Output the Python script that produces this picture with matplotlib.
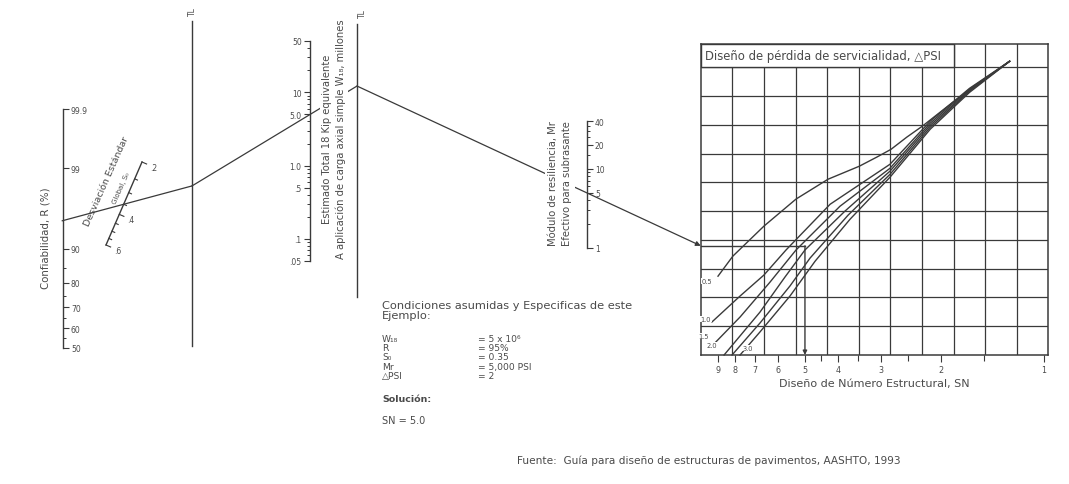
import numpy as np
import matplotlib.pyplot as plt
from matplotlib import transforms
from matplotlib.patches import Rectangle
from matplotlib.ticker import LogLocator, NullFormatter

plt.rcParams['font.family'] = ['DejaVu Sans']

W, H = 1069, 485
ink = '#3a3a3a'
txt = '#4a4a4a'

# ---- scale data ----
# confiabilidad R (%) y su desviacion normal estandar |Z_R|
r_major = ['99.9', '99', '90', '80', '70', '60', '50']
r_major_z = [3.090, 2.327, 1.282, 0.841, 0.524, 0.253, 0.0]
r_minor_z = [1.036, 0.674, 0.385, 0.126]          # 85, 75, 65, 55

so_major = [0.2, 0.4, 0.6]
so_labels = ['.2', '.4', '.6']
so_minor = [0.25, 0.3, 0.35, 0.45, 0.5, 0.55]

w18_major = [0.05, 0.1, 0.5, 1.0, 5.0, 10, 50]
w18_labels = ['.05', '.1', '.5', '1.0', '5.0', '10', '50']

mr_major = [1, 5, 10, 20, 40]
mr_labels = ['1', '5', '10', '20', '40']
mr_minor = [2, 3, 4, 6, 7, 8, 9, 15, 25, 30, 35]

sn_major = [9, 8, 7, 6, 5, 4, 3, 2, 1]
sn_minor = [4.5, 3.5, 2.5, 1.5]

# curvas de perdida de servicialidad (SN, altura en cuadriculas)
dpsi_names = ['0.5', '1.0', '1.5', '2.0', '2.5', '3.0']
sn_05 = [8.98, 8.12, 6.59, 5.31, 4.28, 3.47, 3.08, 2.80, 2.52, 2.27, 1.85, 1.49, 1.26]
y_05 = [2.74, 3.44, 4.48, 5.42, 6.11, 6.56, 6.88, 7.15, 7.57, 7.95, 8.78, 9.58, 10.21]
sn_10 = [9.35, 7.74, 6.59, 5.68, 4.22, 2.82, 2.15, 1.65, 1.26]
y_10 = [1.15, 2.05, 2.78, 3.65, 5.24, 6.63, 8.13, 9.27, 10.21]
sn_15 = [9.29, 7.74, 6.33, 5.31, 3.95, 2.82, 2.15, 1.65, 1.26]
y_15 = [0.35, 1.32, 2.53, 3.65, 5.17, 6.49, 8.06, 9.24, 10.21]
sn_20 = [8.62, 6.77, 5.72, 5.0, 3.82, 2.82, 2.15, 1.65, 1.26]
y_20 = [0.0, 1.49, 2.71, 3.65, 5.00, 6.39, 7.99, 9.20, 10.21]
sn_25 = [8.17, 6.77, 5.53, 4.83, 3.74, 2.82, 2.15, 1.65, 1.26]
y_25 = [0.0, 1.11, 2.40, 3.37, 4.86, 6.28, 7.92, 9.17, 10.21]
sn_30 = [7.74, 6.77, 5.53, 4.67, 3.69, 2.82, 2.15, 1.65, 1.26]
y_30 = [0.0, 0.80, 2.05, 3.26, 4.72, 6.18, 7.85, 9.13, 10.21]

# ejemplo
z_r = 1.645      # R = 95 %
so_val = 0.35
w18_val = 5.0
mr_val = 5.0
sn_val = 5.0

fig = plt.figure(figsize=(W / 100, H / 100), dpi=100)
ov = fig.add_axes([0, 0, 1, 1])
ov.set_xlim(0, W)
ov.set_ylim(H, 0)
ov.axis('off')


def to_px(ax, x, y, tr=None):
    d = (tr or ax.transData).transform((x, y))
    return ov.transData.inverted().transform(d)


def vscale(x, ytop, ybot, side):
    ax = fig.add_axes([x / W, 1 - ybot / H, 0.0005, (ybot - ytop) / H])
    ax.patch.set_visible(False)
    for s in ax.spines.values():
        s.set_visible(False)
    ax.spines[side].set_visible(True)
    ax.spines[side].set_color(ink)
    ax.spines[side].set_linewidth(1.0)
    ax.set_xticks([])
    if side == 'right':
        ax.yaxis.tick_right()
    ax.tick_params(axis='y', which='major', length=4, width=0.8, color=ink,
                   labelsize=5.5, labelcolor=txt, pad=2)
    ax.tick_params(axis='y', which='minor', length=2.5, width=0.7, color=ink)
    return ax


# R
ax_r = vscale(62, 110, 349, 'right')
ax_r.set_ylim(0, 3.090)
ax_r.set_yticks(r_major_z, r_major)
ax_r.set_yticks(r_minor_z, minor=True)
ov.text(46, 238, 'Confiabilidad, R (%)', rotation=90, ha='center', va='center',
        fontsize=7.4, color=txt)

# W18
ax_w = vscale(310, 42, 262, 'left')
ax_w.set_yscale('log')
ax_w.set_ylim(0.05, 50)
ax_w.set_yticks(w18_major, w18_labels)
ax_w.yaxis.set_minor_locator(LogLocator(base=10, subs=np.arange(2, 10)))
ax_w.yaxis.set_minor_formatter(NullFormatter())

# Mr
ax_m = vscale(586, 122, 249, 'right')
ax_m.set_yscale('log')
ax_m.set_ylim(1, 40)
ax_m.set_yticks(mr_major, mr_labels)
ax_m.set_yticks(mr_minor, minor=True)
ax_m.yaxis.set_minor_formatter(NullFormatter())

# So (escala inclinada, logaritmica)
p_top = np.array([142.0, 163.0])
p_bot = np.array([106.0, 246.0])
u = (p_top - p_bot) / np.hypot(*(p_top - p_bot))
nrm = np.array([-u[1], u[0]])


def so_pt(v):
    t = (np.log10(v) - np.log10(0.6)) / (np.log10(0.2) - np.log10(0.6))
    return p_bot + t * (p_top - p_bot)


ov.plot([p_bot[0], p_top[0]], [p_bot[1], p_top[1]], color=ink, lw=1.0)
for v in so_major + so_minor:
    a = so_pt(v)
    b = a + nrm * (5 if v in so_major else 3)
    ov.plot([a[0], b[0]], [a[1], b[1]], color=ink, lw=0.8)
for v, lab in zip(so_major, so_labels):
    c = so_pt(v) + nrm * 13
    ov.text(c[0], c[1], lab, fontsize=5.5, color=txt, ha='center', va='center')
ov.text(106, 182, 'Desviación Estándar', rotation=66, ha='center', va='center',
        fontsize=6.8, color=txt)
ov.text(121, 188, 'Global, S₀', rotation=66, ha='center', va='center',
        fontsize=5, color=txt)

# lineas de pivote TL
tl1_x, tl2_x = 192, 357
ov.plot([tl1_x, tl1_x], [22, 347], color=ink, lw=1.0)
ov.plot([tl2_x, tl2_x], [25, 298], color=ink, lw=1.0)
ov.text(tl1_x, 12, 'TL', rotation=90, fontsize=5.5, color=txt, ha='center', va='center')
ov.text(tl2_x + 5, 14, 'TL', rotation=90, fontsize=5.5, color=txt, ha='center', va='center')

ov.text(334, 139, 'Estimado Total 18 Kip equivalente\n'
        'A aplicación de carga axial simple W₁₈, millones',
        rotation=90, ha='center', va='center', fontsize=7.2, color=txt,
        linespacing=1.45, zorder=5,
        bbox=dict(fc='white', ec='none', pad=1))
ov.text(560, 184, 'Módulo de resiliencia, Mr\nEfectivo para subrasante',
        rotation=90, ha='center', va='center', fontsize=7.2, color=txt,
        linespacing=1.5, zorder=5,
        bbox=dict(fc='white', ec='none', pad=2))

# grafico de diseño
x0, x1, yt, yb = 700.7, 1048.3, 45, 356
ax_c = fig.add_axes([x0 / W, 1 - yb / H, (x1 - x0) / W, (yb - yt) / H])
ax_c.patch.set_visible(False)
ax_c.set_xscale('log')
ax_c.set_xlim(10.09, 0.971)
ax_c.set_ylim(0, 10.81)
for s in ax_c.spines.values():
    s.set_color(ink)
    s.set_linewidth(1.1)
for k in range(1, 11):
    ax_c.plot([k / 11, k / 11], [0, 1], transform=ax_c.transAxes, color=ink, lw=0.9)
for j in range(1, 11):
    ax_c.axhline(j, color=ink, lw=0.9)
blend = transforms.blended_transform_factory(ax_c.transAxes, ax_c.transData)
ax_c.add_patch(Rectangle((0, 10), 8 / 11, 0.81, transform=blend, fc='white',
                         ec=ink, lw=1.0, zorder=3))
ax_c.text(0.012, 10.40, 'Diseño de pérdida de servicialidad, △PSI', transform=blend,
          fontsize=8.4, color=txt, va='center', zorder=4)

curves = [(sn_05, y_05), (sn_10, y_10), (sn_15, y_15),
          (sn_20, y_20), (sn_25, y_25), (sn_30, y_30)]
for sn, yy in curves:
    ax_c.plot(sn, yy, color=ink, lw=1.0, clip_on=False)

ax_c.set_yticks([])
ax_c.set_xticks(sn_major, [str(v) for v in sn_major])
ax_c.set_xticks(sn_minor, minor=True)
ax_c.xaxis.set_minor_formatter(NullFormatter())
ax_c.tick_params(axis='x', which='major', length=5, width=0.8, color=ink,
                 labelsize=5.8, labelcolor=txt, pad=2)
ax_c.tick_params(axis='x', which='minor', length=4, width=0.8, color=ink)
ax_c.set_xlabel('Diseño de Número Estructural, SN', fontsize=8, color=txt, labelpad=3)

lab_pos = [(707, 282), (706, 320), (704, 337), (712, 346), (730, 349), (748, 349)]
for name, (px, py) in zip(dpsi_names, lab_pos):
    if name == '2.5':
        continue
    ax_c.text(px, py, name, transform=ov.transData, fontsize=4.8, color=txt,
              ha='center', va='center', zorder=4,
              bbox=dict(fc='white', ec='none', pad=0.3))

# recorrido del ejemplo
p_r = to_px(ax_r, 0.5, z_r)
p_so = so_pt(so_val)
p_tl1 = np.array([tl1_x, p_r[1] + (p_so[1] - p_r[1]) * (tl1_x - p_r[0]) / (p_so[0] - p_r[0])])
p_w = to_px(ax_w, 0.5, w18_val)
p_tl2 = np.array([tl2_x, p_tl1[1] + (p_w[1] - p_tl1[1]) * (tl2_x - p_tl1[0]) / (p_w[0] - p_tl1[0])])
p_m = to_px(ax_m, 0.5, mr_val)
left = to_px(ax_c, 0, 0, ax_c.transAxes)[0]
p_in = np.array([left, p_tl2[1] + (p_m[1] - p_tl2[1]) * (left - p_tl2[0]) / (p_m[0] - p_tl2[0])])

ov.plot([p_r[0], p_tl1[0]], [p_r[1], p_tl1[1]], color=ink, lw=0.9, zorder=2)
ov.plot([p_tl1[0], p_tl2[0]], [p_tl1[1], p_tl2[1]], color=ink, lw=0.9, zorder=2)
ov.annotate('', xy=p_in, xytext=p_tl2, zorder=2,
            arrowprops=dict(arrowstyle='-|>', color=ink, lw=0.9, mutation_scale=7,
                            shrinkA=0, shrinkB=0))

y_hit = ax_c.transData.inverted().transform(ov.transData.transform(p_in))[1]
ax_c.plot([10.09, sn_val], [y_hit, y_hit], color=ink, lw=1.0)
ax_c.annotate('', xy=(sn_val, 0), xytext=(sn_val, y_hit),
              arrowprops=dict(arrowstyle='-|>', color=ink, lw=1.0, mutation_scale=6,
                              shrinkA=0, shrinkB=0))

# texto del ejemplo
tx = 382
ov.text(tx, 311, 'Condiciones asumidas y Especificas de este\nEjemplo:',
        fontsize=8.2, color=txt, va='center', linespacing=1.1)
rows = ['W₁₈', 'R', 'S₀', 'Mr', '△PSI']
vals = ['= 5 x 10⁶', '= 95%', '= 0.35', '= 5,000 PSI', '= 2']
ov.text(tx, 335, '\n'.join(rows), fontsize=6.6, color=txt, va='top', linespacing=1.03)
ov.text(478, 335, '\n'.join(vals), fontsize=6.6, color=txt, va='top', linespacing=1.03)
ov.text(tx, 400, 'Solución:', fontsize=6.8, color=txt, va='center', fontweight='bold')
ov.text(tx, 421, 'SN = 5.0', fontsize=7, color=txt, va='center')
ov.text(517, 461, 'Fuente:  Guía para diseño de estructuras de pavimentos, AASHTO, 1993',
        fontsize=7.6, color=txt, va='center')

fig.savefig('out.png', dpi=100, facecolor='white')
